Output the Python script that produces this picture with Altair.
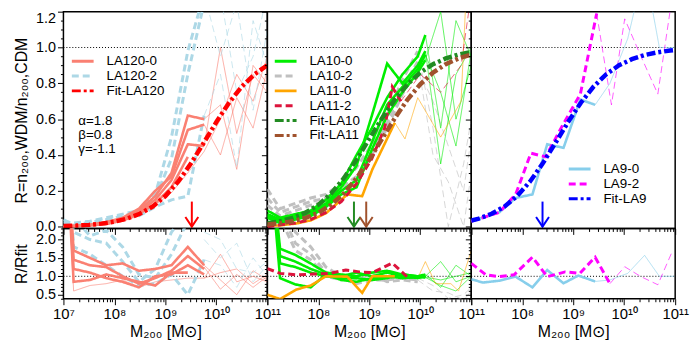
import altair as alt
import pandas as pd

FONT = "Liberation Sans"
PW, TOP_H, BOT_H = 206, 219, 71

# ---------------- LEFT PANEL : LA120 ----------------
L_LM = [7.0, 7.2, 7.52, 7.84, 8.16, 8.48, 8.8, 9.12, 9.44, 9.76]
L_LM_HI = [9.76, 10.08, 10.4, 10.72, 11.0]
L_LM_ALL = L_LM + L_LM_HI[1:]

LA120_0_R = [
    [0.000, 0.004, 0.010, 0.022, 0.045, 0.090, 0.170, 0.300, 0.620, 0.600],
    [0.000, 0.005, 0.012, 0.025, 0.050, 0.100, 0.200, 0.280, 0.540, 0.570],
    [0.000, 0.003, 0.008, 0.018, 0.040, 0.080, 0.150, 0.260, 0.460, 0.450],
    [0.000, 0.002, 0.007, 0.015, 0.035, 0.070, 0.130, 0.220, 0.390],
]
LA120_0_R_THIN = [
    [0.45, 1.00, 0.52, 0.85, 0.75],
    [0.60, 0.68, 0.32, 0.90, 0.80],
    [0.57, 0.40, 0.72, 0.55, 0.88],
]
LA120_0_R_FULL = [0.0, 0.002, 0.006, 0.012, 0.03, 0.06, 0.12, 0.19, 0.30, 0.42, 0.60, 0.85, 0.70, 0.95]
LA120_2_R = [
    [0.04, 0.010, 0.025, 0.040, 0.060, 0.080, 0.180, 0.500, 0.980, 1.30],
    [0.03, 0.020, 0.030, 0.050, 0.070, 0.090, 0.160, 0.380, 0.850, 1.25],
    [0.02, 0.010, 0.015, 0.030, 0.050, 0.060, 0.110, 0.150, 0.170, 0.62],
]
LA120_2_R_THIN = [
    [1.30, 0.95, 1.25, 0.65, 1.10],
    [0.62, 0.85, 0.33, 1.15, 0.90],
    [1.25, 1.30, 0.75, 0.95, 1.30],
]
LA120_0_Q = [
    [6.0, 1.70, 1.50, 1.30, 1.35, 1.15, 1.20, 1.30, 1.80, 1.30],
    [6.0, 1.45, 1.30, 1.25, 1.00, 0.80, 0.95, 1.15, 1.55, 1.20],
    [6.0, 1.20, 1.10, 0.95, 0.85, 0.70, 1.00, 1.05, 1.30, 1.05],
    [6.0, 0.85, 0.90, 1.05, 0.95, 0.85, 0.75, 1.10, 1.10],
]
LA120_0_Q_THIN = [
    [0.95, 1.60, 0.85, 1.00, 0.85],
    [1.30, 0.90, 0.50, 1.15, 0.90],
    [1.25, 0.65, 1.05, 0.70, 1.00],
]
LA120_0_Q_FULL = [6.0, 0.60, 0.75, 0.80, 0.90, 0.70, 0.85, 0.90, 0.95, 0.95, 1.10, 1.20, 0.80, 1.05]
LA120_2_Q = [
    [6.0, 2.20, 2.00, 1.90, 1.40, 0.85, 1.20, 2.20, 2.80, 3.00],
    [6.0, 2.60, 2.10, 2.25, 1.80, 1.05, 0.95, 1.60, 2.50, 2.90],
    [6.0, 1.80, 1.60, 1.30, 1.00, 0.75, 0.80, 1.05, 0.50, 1.45],
]
LA120_2_Q_THIN = [
    [2.00, 1.50, 1.90, 0.85, 1.30],
    [1.45, 1.30, 0.70, 1.50, 1.00],
    [2.20, 2.00, 1.20, 1.10, 1.40],
]

# fits
FIT_LM = [7.0, 7.25, 7.5, 7.75, 8.0, 8.25, 8.5, 8.75, 9.0, 9.25, 9.5, 9.75, 10.0, 10.25, 10.5, 10.75, 11.0]
FIT_LA120 = [0.004, 0.006, 0.010, 0.017, 0.028, 0.045, 0.072, 0.112, 0.171, 0.251, 0.352, 0.467, 0.584, 0.692, 0.782, 0.851, 0.901]
FIT_LA10 = [0.019, 0.030, 0.049, 0.078, 0.122, 0.185, 0.270, 0.374, 0.490, 0.605, 0.710, 0.795, 0.860, 0.907, 0.939, 0.961, 0.975]
FIT_LA11 = [0.012, 0.019, 0.030, 0.049, 0.078, 0.122, 0.185, 0.270, 0.374, 0.490, 0.605, 0.710, 0.795, 0.860, 0.907, 0.939, 0.961]
FIT9_LM = [7.0, 7.15, 7.4, 7.65, 7.9, 8.15, 8.4, 8.65, 8.9, 9.15, 9.4, 9.65, 9.9, 10.15, 10.4, 10.65, 10.9, 11.0]
FIT_LA9 = [0.034, 0.045, 0.072, 0.112, 0.171, 0.251, 0.352, 0.467, 0.584, 0.692, 0.782, 0.851, 0.901, 0.935, 0.958, 0.973, 0.983, 0.986]

# ---------------- MIDDLE PANEL : LA10 / LA11 ----------------
M_LM = [7.0, 7.25, 7.55, 7.85, 8.15, 8.45, 8.75, 9.05, 9.35, 9.65, 9.95, 10.1]
M_LM_HI = [10.1, 10.4, 10.7, 11.0]
GRAY_LM_HI = [9.95, 10.25, 10.55, 10.85, 11.0]

LA10_0_R = [
    [0.09, 0.05, 0.07, 0.09, 0.15, 0.24, 0.40, 0.55, 0.72, 0.85, 0.95, 1.07],
    [0.07, 0.04, 0.06, 0.08, 0.13, 0.22, 0.34, 0.62, 0.91, 0.80, 0.90, 0.98],
    [0.06, 0.03, 0.05, 0.07, 0.12, 0.20, 0.26, 0.47, 0.68, 0.78, 0.88, 0.96],
    [0.05, 0.02, 0.04, 0.06, 0.11, 0.18, 0.22, 0.43, 0.62, 0.75, 0.86, 0.93],
]
LA10_0_R_THIN = [
    [1.07, 0.55, 1.15, 0.95],
    [0.98, 0.35, 0.85, 1.00],
    [0.96, 0.75, 0.45, 0.98],
    [0.93, 1.20, 0.60, 0.90],
]
LA10_2_R = [
    [0.21, 0.10, 0.13, 0.16, 0.18, 0.24, 0.33, 0.46, 0.62, 0.82, 0.98],
    [0.16, 0.08, 0.11, 0.14, 0.16, 0.22, 0.28, 0.42, 0.58, 0.78, 0.92],
    [0.12, 0.06, 0.09, 0.12, 0.14, 0.20, 0.26, 0.40, 0.55, 0.74, 0.88],
]
LA10_2_R_THIN = [
    [0.98, 0.55, 0.00, 0.35, 0.60],
    [0.92, 0.40, 0.25, 0.00, 0.30],
    [0.88, 0.70, 0.45, 0.20, 0.50],
]
LA11_0_LM = [7.0, 7.25, 7.57, 7.85, 8.15, 8.57, 8.86, 9.06, 9.5]
LA11_0_R = [0.006, 0.007, 0.018, 0.035, 0.075, 0.18, 0.17, 0.32, 0.58]
LA11_0_THIN_LM = [9.5, 9.7, 9.95, 10.4, 10.8, 10.9]
LA11_0_R_THIN = [0.58, 0.49, 0.72, 0.50, 0.70, 1.30]
LA11_2_LM = [7.0, 7.25, 7.55, 7.85, 8.15, 8.45, 8.75, 9.05, 9.3, 9.45, 9.62]
LA11_2_R = [0.0, 0.01, 0.02, 0.04, 0.08, 0.14, 0.24, 0.38, 0.55, 0.78, 0.70]
LA11_2_THIN_LM = [9.62, 10.0, 10.4, 10.8, 11.0]
LA11_2_R_THIN = [0.70, 0.85, 0.75, 0.90, 1.30]

LA10_0_Q = [
    [5.0, 1.75, 1.58, 1.35, 1.10, 1.05, 1.00, 1.10, 1.15, 1.05, 1.00, 1.05],
    [5.0, 1.55, 1.40, 1.20, 1.05, 1.00, 1.10, 1.00, 1.10, 1.00, 0.95, 1.00],
    [5.0, 1.35, 1.25, 1.10, 1.00, 0.95, 0.95, 0.90, 0.95, 1.05, 1.00, 0.98],
    [5.0, 0.95, 0.78, 0.70, 1.05, 0.90, 0.85, 0.95, 1.00, 0.95, 0.98, 0.97],
]
LA10_0_Q_THIN = [
    [1.05, 0.70, 1.30, 1.00],
    [1.00, 1.40, 0.85, 1.00],
    [0.98, 0.90, 1.00, 1.10],
    [0.97, 0.75, 0.60, 1.00],
]
LA10_2_Q = [
    [6.0, 3.00, 2.20, 1.80, 1.25, 1.00, 0.95, 0.92, 0.95, 1.00, 0.95],
    [6.0, 2.80, 1.90, 1.60, 1.10, 0.95, 0.80, 0.90, 0.90, 0.95, 0.90],
    [6.0, 2.60, 1.70, 1.45, 1.00, 0.90, 1.00, 1.05, 0.85, 0.90, 0.85],
]
LA10_2_Q_THIN = [
    [0.95, 0.75, 0.40, 0.50, 0.70],
    [0.90, 0.60, 0.55, 0.35, 0.60],
]
LA11_0_Q = [0.50, 0.38, 0.64, 0.75, 1.00, 0.99, 0.55, 1.00, 1.00]
LA11_0_Q_THIN_LM = [9.5, 9.95, 10.1, 10.3, 10.6, 10.75, 11.0]
LA11_0_Q_THIN = [1.00, 0.95, 1.40, 0.80, 0.80, 0.60, 1.70]
LA11_2_Q_LM = [7.0, 7.25, 7.57, 7.9, 8.22, 8.54, 8.8, 9.06, 9.45, 9.77]
LA11_2_Q = [1.21, 1.08, 1.04, 1.06, 1.08, 1.17, 1.12, 1.10, 1.36, 0.95]

# ---------------- RIGHT PANEL : LA9 ----------------
LA9_0_LM = [7.0, 7.55, 7.87, 8.2, 8.49, 8.81, 9.14, 9.43]
LA9_0_R = [0.03, 0.08, 0.16, 0.18, 0.46, 0.44, 0.71, 0.68]
LA9_0_THIN_LM = [9.43, 9.72, 10.07, 10.4, 10.69, 10.98]
LA9_0_R_THIN = [0.68, 0.80, 1.05, 1.45, 1.00, 1.00]
LA9_2_LM = [7.0, 7.55, 7.87, 8.17, 8.46, 8.78, 9.14, 9.46]
LA9_2_R = [0.03, 0.08, 0.18, 0.41, 0.39, 0.56, 0.74, 1.19]
LA9_2_THIN_LM = [9.46, 9.75, 10.01, 10.33, 10.66, 10.95]
LA9_2_R_THIN = [1.19, 0.68, 1.16, 0.95, 0.74, 1.30]

LA9_0_Q_LM = [7.0, 7.23, 7.55, 7.87, 8.2, 8.49, 8.81, 9.1, 9.43]
LA9_0_Q = [0.92, 0.83, 0.88, 0.99, 0.70, 1.17, 0.81, 1.02, 0.86]
LA9_0_Q_THIN_LM = [9.43, 9.72, 10.07, 10.4, 10.69, 10.98]
LA9_0_Q_THIN = [0.86, 0.90, 1.08, 1.57, 1.00, 1.00]
LA9_2_Q_LM = [7.0, 7.29, 7.55, 7.84, 8.2, 8.49, 8.84, 9.13, 9.43, 9.72]
LA9_2_Q = [1.35, 1.04, 0.99, 1.04, 1.52, 0.99, 1.12, 1.08, 1.52, 0.80]
LA9_2_Q_THIN_LM = [9.72, 10.01, 10.33, 10.66, 10.95]
LA9_2_Q_THIN = [0.80, 1.26, 0.99, 0.77, 1.70]

# half-mode masses marked by arrows
ARROW_LA120 = [3.3e9]
ARROW_LA10 = [5.0e8]
ARROW_LA11 = [8.7e8]
ARROW_LA9 = [2.5e8]
ARROW_TOP, ARROW_TIP = 0.14, 0.0
PARAM_TEXT = "α=1.8\nβ=0.8\nγ=-1.1"

# ---------------- styles ----------------
W_THICK, W_DASH, W_THIN, W_FIT = 2.6, 3.0, 0.8, 4.5
SOLID, DASH, DASHDOT = [1, 0], [7, 4], [9, 3, 3, 3]


def add(rows, series, rid, lms, vals, w, o=1.0):
    for lm, v in zip(lms, vals):
        rows.append(dict(M=10 ** lm, v=v, series=series, rid=rid, w=w, o=o))


X_MAJOR = [10 ** e for e in range(7, 12)]
X_MINOR = [m * 10 ** e for e in range(7, 11) for m in range(2, 10)]
XLAB_ALL = ("datum.value == 10000000 ? '10⁷' : datum.value == 100000000 ? '10⁸' : "
            "datum.value == 1000000000 ? '10⁹' : datum.value == 10000000000 ? '10¹⁰' : "
            "datum.value == 100000000000 ? '10¹¹' : ''")
XLAB_NO7 = ("datum.value == 100000000 ? '10⁸' : "
            "datum.value == 1000000000 ? '10⁹' : datum.value == 10000000000 ? '10¹⁰' : "
            "datum.value == 100000000000 ? '10¹¹' : ''")
TOP_MAJOR = [0.0, 0.2, 0.4, 0.6, 0.8, 1.0, 1.2]
TOP_MINOR = [round(0.05 * i, 2) for i in range(25) if i % 4]
BOT_MAJOR = [0.5, 1.0, 1.5, 2.0]
BOT_MINOR = [round(0.1 * i, 1) for i in range(4, 24) if i % 5]


def x_major(labels, expr=XLAB_ALL):
    if labels:
        return alt.Axis(values=X_MAJOR, labelExpr=expr, title="M₂₀₀ [M⊙]", grid=False, domain=False,
                        tickSize=6, tickColor="black", labelPadding=2, titlePadding=2,
                        labelFontSize=15, labelFlush=False, labelOverlap=False, orient="bottom")
    return alt.Axis(values=X_MAJOR, labels=False, title=None, grid=False, domain=False,
                    tickSize=6, tickColor="black", orient="bottom")


def x_minor():
    return alt.Axis(values=X_MINOR, labels=False, title=None, grid=False, domain=False,
                    tickSize=3, tickColor="black", orient="bottom")


def y_major(ticks, labels, title=None):
    if labels:
        return alt.Axis(values=ticks, format=".1f", title=title, grid=False, domain=False,
                        tickSize=6, tickColor="black", labelPadding=2, titlePadding=6,
                        labelFontSize=14.5, labelFlush=True, labelOverlap=False, orient="left")
    return alt.Axis(values=ticks, labels=False, title=None, grid=False, domain=False,
                    tickSize=6, tickColor="black", orient="left")


def y_minor(ticks):
    return alt.Axis(values=ticks, labels=False, title=None, grid=False, domain=False,
                    tickSize=3, tickColor="black", orient="left")


def legend(x, y):
    return alt.Legend(orient="none", legendX=x, legendY=y, title=None,
                      symbolType="M-2,0H2", symbolSize=121, symbolStrokeWidth=3,
                      labelFontSize=13.5, labelFont=FONT, rowPadding=1, labelOffset=17,
                      padding=0, symbolOpacity=1)


def panel(rows, names, colors, dashes, ydom, ymaj, ymin, xmaj, height, leg, extras=()):
    df = pd.DataFrame(rows)
    xs = alt.Scale(type="log", domain=[1e7, 1e11])
    ys = alt.Scale(domain=ydom)
    lines = alt.Chart(df).mark_line(clip=True).encode(
        x=alt.X("M:Q", scale=xs, axis=xmaj),
        y=alt.Y("v:Q", scale=ys, axis=ymaj),
        color=alt.Color("series:N", scale=alt.Scale(domain=names, range=colors), legend=leg),
        strokeDash=alt.StrokeDash("series:N", scale=alt.Scale(domain=names, range=dashes), legend=leg),
        strokeWidth=alt.StrokeWidth("w:Q", scale=None),
        opacity=alt.Opacity("o:Q", scale=None),
        detail="rid:N",
    )
    unity = alt.Chart(pd.DataFrame({"M": [1e7], "M2": [1e11], "v": [1.0]})).mark_rule(
        color="black", strokeDash=[1, 2], strokeWidth=1).encode(
        x=alt.X("M:Q", scale=xs, axis=x_minor()), x2="M2",
        y=alt.Y("v:Q", scale=ys, axis=ymin))
    layers = [unity, lines] + [e(xs, ys) for e in extras]
    return (alt.layer(*layers).properties(width=PW, height=height)
            .resolve_axis(x="independent", y="independent"))


def arrow(ms, color):
    def build(xs, ys):
        d = pd.DataFrame({"M": ms, "v": [ARROW_TOP] * len(ms), "v2": [ARROW_TIP] * len(ms)})
        x = alt.X("M:Q", scale=xs, axis=None)
        shaft = alt.Chart(d).mark_rule(color=color, strokeWidth=2).encode(
            x=x, y=alt.Y("v:Q", scale=ys, axis=None), y2="v2")
        head = alt.Chart(d).mark_point(shape="M-1,-1.5L0,0L1,-1.5", size=170, filled=False,
                                       color=color, strokeWidth=2, opacity=1).encode(
            x=x, y=alt.Y("v2:Q", scale=ys, axis=None))
        return alt.layer(shaft, head)
    return build


def params(xs, ys):
    return alt.Chart(pd.DataFrame({"t": [PARAM_TEXT]})).mark_text(
        align="left", baseline="top", fontSize=13.5, font=FONT, lineBreak="\n", lineHeight=14.5,
        color="black").encode(text="t:N", x=alt.value(15), y=alt.value(103))


# ---------- build rows ----------
tL, bL = [], []
add(tL, "LA120-0", "full", L_LM_ALL, LA120_0_R_FULL, W_THIN, 0.8)
for i, r in enumerate(LA120_0_R_THIN):
    add(tL, "LA120-0", f"t{i}", L_LM_HI, r, W_THIN, 0.8)
for i, r in enumerate(LA120_2_R_THIN):
    add(tL, "LA120-2", f"u{i}", L_LM_HI, r, W_THIN, 0.8)
for i, r in enumerate(LA120_2_R):
    add(tL, "LA120-2", f"p{i}", L_LM, r, W_DASH)
for i, r in enumerate(LA120_0_R):
    add(tL, "LA120-0", f"a{i}", L_LM, r, W_THICK)
add(tL, "Fit-LA120", "fit", FIT_LM, FIT_LA120, W_FIT)

add(bL, "LA120-0", "full", L_LM_ALL, LA120_0_Q_FULL, W_THIN, 0.8)
for i, r in enumerate(LA120_0_Q_THIN):
    add(bL, "LA120-0", f"t{i}", L_LM_HI, r, W_THIN, 0.8)
for i, r in enumerate(LA120_2_Q_THIN):
    add(bL, "LA120-2", f"u{i}", L_LM_HI, r, W_THIN, 0.8)
for i, r in enumerate(LA120_2_Q):
    add(bL, "LA120-2", f"p{i}", L_LM, r, W_DASH)
for i, r in enumerate(LA120_0_Q):
    add(bL, "LA120-0", f"a{i}", L_LM, r, W_THICK)

tM, bM = [], []
for i, r in enumerate(LA10_2_R_THIN):
    add(tM, "LA10-2", f"k{i}t", GRAY_LM_HI, r, W_THIN, 0.8)
for i, r in enumerate(LA10_0_R_THIN):
    add(tM, "LA10-0", f"g{i}t", M_LM_HI, r, W_THIN, 0.8)
add(tM, "LA11-0", "ot", LA11_0_THIN_LM, LA11_0_R_THIN, W_THIN, 0.8)
add(tM, "LA11-2", "ct", LA11_2_THIN_LM, LA11_2_R_THIN, W_THIN, 0.8)
for i, r in enumerate(LA10_2_R):
    add(tM, "LA10-2", f"k{i}", M_LM, r, W_DASH)
for i, r in enumerate(LA10_0_R):
    add(tM, "LA10-0", f"g{i}", M_LM, r, W_THICK)
add(tM, "LA11-0", "o", LA11_0_LM, LA11_0_R, W_THICK)
add(tM, "LA11-2", "c", LA11_2_LM, LA11_2_R, W_DASH)
add(tM, "Fit-LA10", "f10", FIT_LM, FIT_LA10, W_FIT)
add(tM, "Fit-LA11", "f11", FIT_LM, FIT_LA11, W_FIT)

for i, r in enumerate(LA10_2_Q_THIN):
    add(bM, "LA10-2", f"k{i}t", GRAY_LM_HI, r, W_THIN, 0.8)
for i, r in enumerate(LA10_0_Q_THIN):
    add(bM, "LA10-0", f"g{i}t", M_LM_HI, r, W_THIN, 0.8)
add(bM, "LA11-0", "ot", LA11_0_Q_THIN_LM, LA11_0_Q_THIN, W_THIN, 0.8)
for i, r in enumerate(LA10_2_Q):
    add(bM, "LA10-2", f"k{i}", M_LM, r, W_DASH)
for i, r in enumerate(LA10_0_Q):
    add(bM, "LA10-0", f"g{i}", M_LM, r, W_THICK)
add(bM, "LA11-0", "o", LA11_0_LM, LA11_0_Q, W_THICK)
add(bM, "LA11-2", "c", LA11_2_Q_LM, LA11_2_Q, W_DASH)

tR, bR = [], []
add(tR, "LA9-0", "bt", LA9_0_THIN_LM, LA9_0_R_THIN, W_THIN, 0.8)
add(tR, "LA9-2", "mt", LA9_2_THIN_LM, LA9_2_R_THIN, W_THIN, 0.8)
add(tR, "LA9-0", "b", LA9_0_LM, LA9_0_R, W_THICK)
add(tR, "LA9-2", "m", LA9_2_LM, LA9_2_R, W_DASH)
add(tR, "Fit-LA9", "f9", FIT9_LM, FIT_LA9, W_FIT)
add(bR, "LA9-0", "bt", LA9_0_Q_THIN_LM, LA9_0_Q_THIN, W_THIN, 0.8)
add(bR, "LA9-2", "mt", LA9_2_Q_THIN_LM, LA9_2_Q_THIN, W_THIN, 0.8)
add(bR, "LA9-0", "b", LA9_0_Q_LM, LA9_0_Q, W_THICK)
add(bR, "LA9-2", "m", LA9_2_Q_LM, LA9_2_Q, W_DASH)

# ---------- series styling ----------
L_NAMES = ["LA120-0", "LA120-2", "Fit-LA120"]
L_COLORS = ["#fa8072", "#add8e6", "#ff0000"]
L_DASH = [SOLID, DASH, DASHDOT]
M_NAMES = ["LA10-0", "LA10-2", "LA11-0", "LA11-2", "Fit-LA10", "Fit-LA11"]
M_COLORS = ["#00ee00", "#c0c0c0", "#ffa500", "#dc143c", "#228b22", "#a0522d"]
M_DASH = [SOLID, DASH, SOLID, DASH, DASHDOT, DASHDOT]
R_NAMES = ["LA9-0", "LA9-2", "Fit-LA9"]
R_COLORS = ["#87ceeb", "#ff00ff", "#0000ff"]
R_DASH = [SOLID, DASH, DASHDOT]

TOP_DOM = [-0.01, 1.2]
BOT_DOM = [0.39, 2.3]
YT = "R=n₂₀₀,WDM/n₂₀₀,CDM"
YB = "R/Rfit"

topL = panel(tL, L_NAMES, L_COLORS, L_DASH, TOP_DOM, y_major(TOP_MAJOR, True, YT), y_minor(TOP_MINOR),
             x_major(False), TOP_H, legend(12.5, 43), [arrow(ARROW_LA120, "#ff0000"), params])
topM = panel(tM, M_NAMES, M_COLORS, M_DASH, TOP_DOM, y_major(TOP_MAJOR, False), y_minor(TOP_MINOR),
             x_major(False), TOP_H, legend(11.5, 43),
             [arrow(ARROW_LA10, "#228b22"), arrow(ARROW_LA11, "#a0522d")])
topR = panel(tR, R_NAMES, R_COLORS, R_DASH, TOP_DOM, y_major(TOP_MAJOR, False), y_minor(TOP_MINOR),
             x_major(False), TOP_H, legend(102.5, 152), [arrow(ARROW_LA9, "#0000ff")])
botL = panel(bL, L_NAMES, L_COLORS, L_DASH, BOT_DOM, y_major(BOT_MAJOR, True, YB), y_minor(BOT_MINOR),
             x_major(True, XLAB_ALL), BOT_H, None)
botM = panel(bM, M_NAMES, M_COLORS, M_DASH, BOT_DOM, y_major(BOT_MAJOR, False), y_minor(BOT_MINOR),
             x_major(True, XLAB_NO7), BOT_H, None)
botR = panel(bR, R_NAMES, R_COLORS, R_DASH, BOT_DOM, y_major(BOT_MAJOR, False), y_minor(BOT_MINOR),
             x_major(True, XLAB_NO7), BOT_H, None)

RES = dict(color="independent", strokeDash="independent", x="independent", y="independent")

chart = (
    alt.concat(topL, topM, topR, botL, botM, botR, columns=3, spacing=0, bounds="flush")
    .resolve_scale(**RES)
    .properties(padding={"left": 5, "top": 0, "right": 2, "bottom": 2}, background="white")
    .configure_view(stroke="black", strokeWidth=1.5)
    .configure_axis(labelFont=FONT, titleFont=FONT, titleFontSize=16,
                    labelColor="black", titleColor="black", titleFontWeight="normal", tickWidth=1)
)

chart.save("out.html", embed_options={"renderer": "svg", "actions": False})
